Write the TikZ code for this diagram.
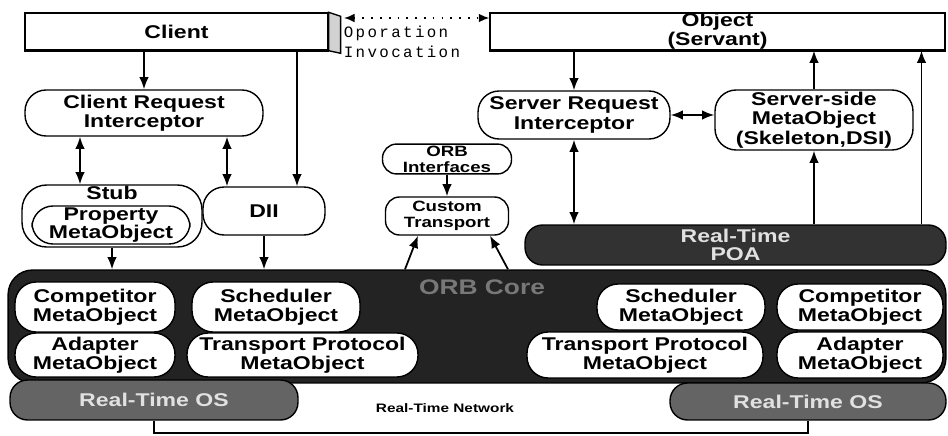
\documentclass[tikz,border=0pt]{standalone}
\usepackage{fontspec}
\setmainfont{Liberation Sans}[FakeStretch=1.25]
\newfontfamily\invfont{Liberation Mono}[LetterSpace=15]
\usepackage{tikz}
\usetikzlibrary{arrows.meta, calc, positioning}
\definecolor{orbdark}{RGB}{35,35,35}
\definecolor{poadark}{RGB}{50,50,50}
\definecolor{osgray}{RGB}{100,100,100}
\definecolor{darktext}{RGB}{225,225,225}
\definecolor{coretext}{RGB}{120,120,120}
\tikzset{
  pill/.style={rectangle, draw=black, fill=white, align=center,
    rounded corners=12pt, line width=0.8pt, inner sep=1pt,
    font=\bfseries\fontsize{10.5}{11}\selectfont},
  smallpill/.style={pill, rounded corners=8pt,
    font=\bfseries\fontsize{8.5}{9}\selectfont},
  darkpill/.style={pill, fill=poadark, text=darktext, rounded corners=10pt,
    font=\bfseries\fontsize{10.5}{10.5}\selectfont},
  ospill/.style={darkpill, fill=osgray},
  slab/.style={rectangle, draw=black, fill=white, line width=0.8pt,
    align=center, inner sep=0pt, font=\bfseries\fontsize{10.5}{11}\selectfont},
  arrow/.style={-{Latex[length=7pt,width=5.5pt]}, line width=1pt},
  dblarrow/.style={{Latex[length=7pt,width=5.5pt]}-{Latex[length=7pt,width=5.5pt]}, line width=1pt},
  dotarrow/.style={{Latex[length=6pt,width=5pt]}-{Latex[length=6pt,width=5pt]},
    line width=1pt, dash pattern=on 1pt off 4pt},
  line/.style={line width=1.2pt}
}

\begin{document}
\begin{tikzpicture}[x=0.02cm, y=-0.02cm]
  \useasboundingbox (0,0) rectangle (948,436);

  % Client and Object
  \node[slab, minimum width=6.06cm, minimum height=0.74cm] (client) at (176.5,31.5) {Client};
  \draw[fill=gray!35, line width=0.8pt] (client.north east) -- ++(12,4) -- ++(0,37) -- (client.south east) -- cycle;
  \draw[line width=1.6pt] (client.south west) -- (client.south east);
  \node[slab, minimum width=9.1cm, minimum height=0.74cm] (object) at (717.5,31.5) {Object\\(Servant)};
  \draw[line width=1.6pt] (object.south west) -- (object.south east);

  % Operation invocation
  \coordinate (invstart) at (344,18);
  \draw[dotarrow] (invstart) -- (invstart -| object.west);
  \node[align=left, inner sep=0pt, font=\invfont\fontsize{9}{11.5}\selectfont] (invtext) at (402,42) {Oporation\\Invocation};

  % Client side
  \node[pill, minimum width=4.76cm, minimum height=0.92cm] (cri) at (144,113) {Client Request\\Interceptor};
  \node[pill, rounded corners=14pt, minimum width=3.6cm, minimum height=1.24cm] (stub) at (112,216) {};
  \node[inner sep=0pt, font=\bfseries\fontsize{10.5}{11}\selectfont] (stubname) at (112,193) {Stub};
  \node[pill, minimum width=3.16cm, minimum height=0.76cm, inner sep=0pt,
    font=\bfseries\fontsize{10.5}{10}\selectfont] (propmo) at (111,225) {Property\\MetaObject};
  \node[pill, minimum width=2.44cm, minimum height=0.96cm] (dii) at (264,211) {DII};

  % ORB interfaces
  \node[smallpill, minimum width=2.58cm, minimum height=0.56cm] (orbif) at (447,159) {ORB\\Interfaces};
  \node[smallpill, minimum width=2.46cm, minimum height=0.76cm] (custom) at (447,216) {Custom\\Transport};

  % Server side
  \node[pill, minimum width=3.84cm, minimum height=0.96cm] (sri) at (574,115) {Server Request\\Interceptor};
  \node[pill, minimum width=3.96cm, minimum height=1.2cm] (ssmo) at (814,120) {Server-side\\MetaObject\\(Skeleton,DSI)};
  \node[darkpill, minimum width=8.42cm, minimum height=0.8cm] (poa) at (735.5,245) {Real-Time\\POA};

  % ORB Core
  \node[pill, fill=orbdark, rounded corners=14pt, minimum width=18.76cm, minimum height=2.26cm] (orb) at (477,326.5) {};
  \node[text=coretext, inner sep=0pt, font=\bfseries\fontsize{12}{12}\selectfont] (orbname) at (482,287) {ORB Core};
  \node[pill, minimum width=3.2cm, minimum height=1.0cm] (compL) at (95,307) {Competitor\\MetaObject};
  \node[pill, minimum width=3.36cm, minimum height=1.0cm] (schedL) at (276,307) {Scheduler\\MetaObject};
  \node[pill, minimum width=3.2cm, minimum height=0.88cm] (adaptL) at (95,355) {Adapter\\MetaObject};
  \node[pill, minimum width=4.62cm, minimum height=0.88cm] (tpL) at (302.5,355) {Transport Protocol\\MetaObject};
  \node[pill, minimum width=3.36cm, minimum height=0.92cm] (schedR) at (681,307) {Scheduler\\MetaObject};
  \node[pill, minimum width=3.32cm, minimum height=0.92cm] (compR) at (860,307) {Competitor\\MetaObject};
  \node[pill, minimum width=4.72cm, minimum height=0.92cm] (tpR) at (645,355) {Transport Protocol\\MetaObject};
  \node[pill, minimum width=3.32cm, minimum height=0.92cm] (adaptR) at (860,355) {Adapter\\MetaObject};

  % Real-Time OS and network
  \node[ospill, minimum width=5.76cm, minimum height=0.8cm] (osL) at (154,400) {Real-Time OS};
  \node[ospill, minimum width=5.52cm, minimum height=0.74cm] (osR) at (808,401.5) {Real-Time OS};
  \node[inner sep=0pt, font=\bfseries\fontsize{7}{8}\selectfont] (netname) at (445,408) {Real-Time Network};
  \draw[line] (osL.south) -- ++(0,12) -| (osR.south);

  % Client side arrows
  \draw[arrow] (client.south -| cri.north) -- (cri.north);
  \draw[arrow] ($(client.south)+(120.5,0)$) -- ($(dii.north)+(33,0)$);
  \draw[dblarrow] ($(cri.south)+(-64,0)$) -- ($(stub.north)+(-32,0)$);
  \draw[dblarrow] ($(cri.south)+(83,0)$) -- ($(dii.north)+(-37,0)$);
  \draw[arrow] (stub.south) -- (stub.south |- orb.north);
  \draw[arrow] (dii.south) -- (dii.south |- orb.north);

  % Custom transport arrows
  \draw[arrow] (orbif.south) -- (custom.north);
  \draw[arrow] ($(orb.north)+(-72,0)$) -- ($(custom.south)+(-29,0)$);
  \draw[arrow] ($(orb.north)+(31,0)$) -- ($(custom.south)+(43,0)$);

  % Server side arrows
  \draw[arrow] (object.south -| sri.north) -- (sri.north);
  \draw[dblarrow] (sri.east) -- (sri.east -| ssmo.west);
  \draw[arrow] (ssmo.north) -- (ssmo.north |- object.south);
  \draw[dblarrow] (sri.south) -- (sri.south |- poa.north);
  \draw[arrow] (poa.north -| ssmo.south) -- (ssmo.south);
  \coordinate (poaright) at ($(poa.north)+(186,0)$);
  \draw[arrow] (poaright) -- (poaright |- object.south);
\end{tikzpicture}
\end{document}
